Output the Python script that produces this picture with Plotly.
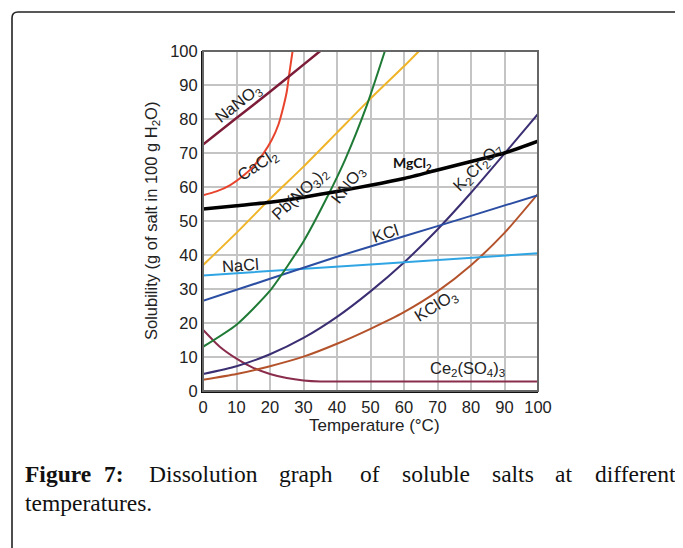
import plotly.graph_objects as go

# ---- data (temperature in °C, solubility in g per 100 g water) ----
nano3_t = [0, 10, 20, 30, 35]
nano3_s = [72.5, 80.3, 88, 96, 100]

cacl2_t = [0, 4, 8, 12, 15, 18, 20.5, 22.5, 24, 25, 25.7, 26.3, 26.9]
cacl2_s = [57.6, 58.7, 60.5, 63.3, 66, 69.8, 73.8, 78.3, 83.6, 88, 93, 97, 101]

pbno32_t = [0, 10, 20, 30, 40, 50, 60, 64.5]
pbno32_s = [37, 46.5, 56.5, 66, 76, 86, 95.5, 100]

kno3_t = [0, 10, 20, 30, 37.3, 42.4, 48.9, 54.3]
kno3_s = [13, 19.5, 29.5, 44, 57.5, 68, 84, 100]

mgcl2_t = [0, 10, 20, 30, 40, 50, 60, 70, 80, 90, 100]
mgcl2_s = [53.5, 54.5, 55.5, 57, 58.7, 60.5, 62.5, 65, 67.5, 70, 73.5]

kcl_t = [0, 20, 40, 60, 80, 100]
kcl_s = [26.5, 33, 39.5, 45.5, 51.5, 57.6]

nacl_t = [0, 50, 100]
nacl_s = [34, 37.2, 40.5]

k2cr2o7_t = [0, 10, 20, 30, 40, 50, 60, 70, 80, 90, 100]
k2cr2o7_s = [5, 7.3, 10.8, 15.6, 21.8, 29.3, 37.8, 47.5, 58.3, 69.8, 81.5]

kclo3_t = [0, 10, 20, 30, 40, 50, 60, 70, 80, 90, 100]
kclo3_s = [3.3, 5, 7.3, 10.1, 13.9, 18.3, 23.2, 29.3, 37, 46.5, 58]

ce2so43_t = [0, 5, 10, 15, 20, 25, 30, 35, 40, 60, 80, 100]
ce2so43_s = [18, 13, 9.5, 6.8, 5, 3.8, 3.1, 2.8, 2.8, 2.8, 2.8, 2.8]

x_ticks = [0, 10, 20, 30, 40, 50, 60, 70, 80, 90, 100]
y_ticks = [0, 10, 20, 30, 40, 50, 60, 70, 80, 90, 100]

series = [
    (ce2so43_t, ce2so43_s, "#8a2c4c", 2),
    (kclo3_t, kclo3_s, "#b4532b", 2),
    (k2cr2o7_t, k2cr2o7_s, "#3b2e72", 2),
    (nacl_t, nacl_s, "#2fa5e4", 2),
    (kcl_t, kcl_s, "#2b4ea3", 2),
    (pbno32_t, pbno32_s, "#f0b428", 2),
    (kno3_t, kno3_s, "#1f7a36", 2),
    (cacl2_t, cacl2_s, "#e8432c", 2),
    (nano3_t, nano3_s, "#7d1c38", 2.5),
    (mgcl2_t, mgcl2_s, "#000000", 3.5),
]

fig = go.Figure()
for t, s, c, w in series:
    fig.add_trace(go.Scatter(x=t, y=s, mode="lines",
                             line=dict(color=c, width=w, shape="spline", smoothing=0.6),
                             showlegend=False, hoverinfo="skip"))

# page body adds an 8px offset; figure is sized so the screen layout matches
OFF = 8
W, H = 683 - OFF, 548 - OFF
L, T = 203 - OFF, 51 - OFF
pw, ph = 335, 340
R, B = W - L - pw, H - T - ph

def px(xs):
    return (xs - OFF - L) / pw

def py(ys):
    return (T + ph - (ys - OFF)) / ph

sans = "Liberation Sans, Arial"
lab_font = dict(family=sans, size=16.5, color="#222222")
labels = [
    ("NaNO<sub>3</sub>", 10.3, 84.5, -38),
    ("CaCl<sub>2</sub>", 16.4, 66.5, -33),
    ("Pb(NO<sub>3</sub>)<sub>2</sub>", 29, 57.8, -43),
    ("KNO<sub>3</sub>", 43.3, 60.6, -52),
    ("K<sub>2</sub>Cr<sub>2</sub>O<sub>7</sub>", 82, 66, -45),
    ("KCl", 54.6, 46.5, -18),
    ("NaCl", 11.3, 37, -4),
    ("KClO<sub>3</sub>", 69.5, 25, -32),
    ("Ce<sub>2</sub>(SO<sub>4</sub>)<sub>3</sub>", 79, 6.4, 0),
]
anns = []
for txt, x, y, a in labels:
    anns.append(dict(text=txt, x=x, y=y, xref="x", yref="y", showarrow=False,
                     textangle=a, font=lab_font, xanchor="center", yanchor="middle"))
anns.append(dict(text="<b>MgCl<sub>2</sub></b>", x=62.4, y=67, xref="x", yref="y",
                 showarrow=False, xanchor="center", yanchor="middle",
                 font=dict(family="Lato, Liberation Sans", size=14, color="#111111")))

# axis titles
anns.append(dict(text="Temperature (°C)", x=px(374), y=py(425), xref="paper", yref="paper",
                 showarrow=False, xanchor="center", yanchor="middle",
                 font=dict(family=sans, size=17, color="#222222")))
anns.append(dict(text="Solubility (g of salt in 100 g H<sub>2</sub>O)", x=px(152), y=py(221),
                 xref="paper", yref="paper", showarrow=False, textangle=-90,
                 xanchor="center", yanchor="middle",
                 font=dict(family=sans, size=16.5, color="#222222")))

# caption (justified first line placed word by word)
cap_font = dict(family="Liberation Serif, Times New Roman", size=23.5, color="#111111")
words1 = [("<b>Figure</b>", 23), ("<b>7:</b>", 102), ("Dissolution", 147), ("graph", 277),
          ("of", 358), ("soluble", 400), ("salts", 490), ("at", 553), ("different", 593)]
for wtxt, xl in words1:
    anns.append(dict(text=wtxt, x=px(xl), y=py(474), xref="paper", yref="paper",
                     showarrow=False, xanchor="left", yanchor="middle", font=cap_font))
anns.append(dict(text="temperatures.", x=px(23), y=py(503), xref="paper", yref="paper",
                 showarrow=False, xanchor="left", yanchor="middle", font=cap_font))

# outer rounded frame (top and left edges)
x0, x1 = px(12), px(682)
yt, yb = py(12), py(548)
rx, ry = 6 / pw, 6 / ph
path = f"M {x0},{yb} L {x0},{yt - ry} Q {x0},{yt} {x0 + rx},{yt} L {x1},{yt}"
shapes = [
    dict(type="path", path=path, xref="paper", yref="paper",
         line=dict(color="#222222", width=1.6)),
    dict(type="rect", x0=0, x1=1, y0=0, y1=1, xref="paper", yref="paper",
         line=dict(color="#666666", width=2), layer="above"),
]

axis_common = dict(range=[0, 100], showgrid=True, gridcolor="#c4c4c4",
                   gridwidth=1.6, zeroline=False, showline=True, linecolor="#111111",
                   linewidth=2, ticks="", layer="above traces",
                   tickfont=dict(family=sans, size=16.5, color="#222222"))

fig.update_layout(
    width=W, height=H, margin=dict(l=L, r=R, t=T, b=B, autoexpand=False),
    paper_bgcolor="white", plot_bgcolor="white",
    xaxis=dict(axis_common, tickvals=x_ticks, ticktext=[str(v) for v in x_ticks]),
    yaxis=dict(axis_common, tickvals=y_ticks, ticktext=[str(v) for v in y_ticks]),
    annotations=anns, shapes=shapes,
)
fig.write_html("out.html")
